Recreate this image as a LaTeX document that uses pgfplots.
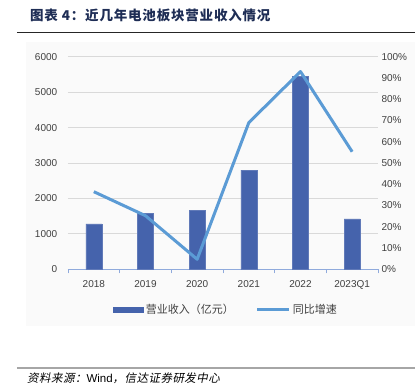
\documentclass[border=0pt]{standalone}
\usepackage{fontspec}
\setmainfont{Liberation Sans}
\newfontfamily\cjk{Noto Sans CJK SC}
\newfontfamily\cjkt{Noto Sans CJK SC}[LetterSpace=6]
\newfontfamily\cjkit{Noto Sans CJK SC}[FakeSlant=0.2,LetterSpace=4]
\usepackage{pgfplots}
\pgfplotsset{compat=1.18}
\definecolor{barc}{RGB}{69,99,172}
\definecolor{linec}{RGB}{91,155,213}
\definecolor{titc}{RGB}{30,45,85}
\definecolor{tickc}{RGB}{64,64,64}
\definecolor{axc}{RGB}{143,170,220}
\definecolor{gridc}{RGB}{217,217,217}
\definecolor{bgc}{RGB}{250,250,250}
\begin{document}
\begin{tikzpicture}[x=1pt,y=1pt]
\useasboundingbox (-68,-117.7) rectangle (347,269.3);
\fill[bgc] (-42,227.3) rectangle (347,-56.7);
\draw[black!85, line width=1pt] (-51,236.3) -- (347,236.3);
\node[anchor=west, inner sep=0pt, text=titc] at (-38,254.3) {\cjkt\bfseries\fontsize{13.5}{15}\selectfont 图表 4：近几年电池板块营业收入情况};
\draw[gray!70, line width=1.5pt] (-51,-98.7) -- (347,-98.7);
\node[anchor=west, inner sep=0pt] at (-41,-108.7) {\fontsize{11.5}{13}\selectfont\cjkit 资料来源：\normalfont\fontsize{11.5}{13}\selectfont Wind\cjkit，信达证券研发中心};
\begin{axis}[
  at={(0,0)}, anchor=south west,
  scale only axis, width=310pt, height=212.6pt,
  xmin=-0.5, xmax=5.5, ymin=0, ymax=6000,
  axis x line*=bottom, axis y line*=left,
  y axis line style={draw=none},
  x axis line style={draw=axc, line width=0.8pt, -},
  ytick={0,1000,...,6000},
  ytick style={draw=none},
  ymajorgrids, grid style={draw=gridc, line width=0.8pt},
  xtick={0,...,5},
  xticklabels={2018,2019,2020,2021,2022,2023Q1},
  major x tick style={draw=none},
  minor xtick={-0.5,0.5,...,5.5},
  minor x tick style={draw=axc, line width=0.8pt},
  tick align=outside, minor tick length=4pt,
  /pgf/number format/1000 sep={},
  /pgf/number format/assume math mode=true,
  tick label style={font=\fontsize{10}{12}\selectfont, text=tickc},
  yticklabel style={xshift=-3pt},
  xticklabel style={yshift=-3pt},
]
\addplot[ybar, bar width=16pt, fill=barc, draw=barc!85!white] coordinates {(0,1280) (1,1580) (2,1665) (3,2800) (4,5440) (5,1420)};
\end{axis}
\begin{axis}[
  at={(0,0)}, anchor=south west,
  scale only axis, width=310pt, height=212.6pt,
  xmin=-0.5, xmax=5.5, ymin=0, ymax=100,
  axis x line=none, axis y line*=right,
  y axis line style={draw=none},
  ytick={0,10,...,100},
  ytick style={draw=none},
  yticklabel={\pgfmathprintnumber{\tick}\%},
  /pgf/number format/assume math mode=true,
  tick label style={font=\fontsize{10}{12}\selectfont, text=tickc},
  yticklabel style={xshift=0pt},
  legend style={draw=none, fill=none, legend columns=2, at={(0.51,-0.19)}, anchor=center,
    font=\cjk\fontsize{11}{12}\selectfont, text=tickc,
    /tikz/every even column/.append style={column sep=20pt}},
]
\addlegendimage{legend image code/.code={\fill[barc] (0pt,-2.5pt) rectangle (30pt,2.5pt);}}
\addlegendentry{营业收入（亿元）}
\addplot[linec, line width=3pt, line join=round, legend image code/.code={\draw[linec,line width=3pt] (0pt,0pt)--(32pt,0pt);}] coordinates {(0,36.5) (1,25.2) (2,4.7) (3,69) (4,93) (5,55.3)};
\addlegendentry{同比增速}
\end{axis}
\end{tikzpicture}
\end{document}
